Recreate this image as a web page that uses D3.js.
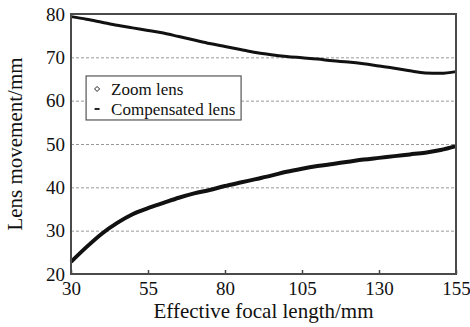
<!DOCTYPE html>
<html>
<head>
<meta charset="utf-8">
<script src="https://cdn.jsdelivr.net/npm/d3@7"></script>
<style>
  body { margin: 0; background: #fff; }
  svg { display: block; font-family: "Liberation Serif", "DejaVu Serif", serif; }
</style>
</head>
<body>
<div id="chart"></div>
<script>
// focal lengths (mm) at which the curves were read
const focal = [30, 35, 40, 45, 50, 55, 60, 65, 70, 75, 80, 85, 90, 95, 100,
  105, 110, 115, 120, 125, 130, 135, 140, 145, 150, 155];
const zoomLens = [22.8, 26.2, 29.3, 31.8, 33.8, 35.2, 36.4, 37.6, 38.6, 39.4, 40.3, 41.1, 41.9, 42.7, 43.6,
  44.3, 44.9, 45.4, 45.9, 46.4, 46.8, 47.2, 47.6, 48.0, 48.6, 49.5];
const compLens = [79.4, 78.8, 78.1, 77.4, 76.8, 76.2, 75.6, 74.8, 74.0, 73.2, 72.5, 71.8, 71.1, 70.6, 70.2,
  69.9, 69.6, 69.2, 68.9, 68.5, 68.0, 67.5, 66.9, 66.4, 66.3, 66.7];
const xTicks = [30, 55, 80, 105, 130, 155];
const yTicks = [20, 30, 40, 50, 60, 70, 80];
const gridValues = [30, 40, 50, 60, 70];
const seriesNames = ["Zoom lens", "Compensated lens"];

const W = 470, H = 327;
const margin = { top: 14, right: 14, bottom: 53, left: 71 };
const width = W - margin.left - margin.right;
const height = H - margin.top - margin.bottom;
const serif = "Liberation Serif, DejaVu Serif, serif";

const svg = d3.select("#chart").append("svg")
  .attr("width", W)
  .attr("height", H);

const g = svg.append("g")
  .attr("transform", `translate(${margin.left},${margin.top})`);

const x = d3.scaleLinear().domain([30, 155]).range([0, width]);
const y = d3.scaleLinear().domain([20, 80]).range([height, 0]);

// dotted grid, drawn as a y axis with full-width ticks
const grid = g.append("g")
  .call(d3.axisLeft(y).tickValues(gridValues).tickSize(-width).tickFormat(""));
grid.select(".domain").remove();
grid.selectAll(".tick line")
  .attr("stroke", "#999")
  .attr("stroke-width", 1)
  .attr("stroke-dasharray", "3,2");

// curves
const line = d3.line()
  .x((d, i) => x(focal[i]))
  .y(d => y(d))
  .curve(d3.curveMonotoneX);

g.append("path")
  .datum(compLens)
  .attr("fill", "none")
  .attr("stroke", "#111")
  .attr("stroke-width", 3)
  .attr("d", line);

g.append("path")
  .datum(zoomLens)
  .attr("fill", "none")
  .attr("stroke", "#111")
  .attr("stroke-width", 4)
  .attr("d", line);

// x axis, ticks pointing inward
const xAxis = g.append("g")
  .attr("transform", `translate(0,${height})`)
  .call(d3.axisBottom(x).tickValues(xTicks).tickSize(-4).tickPadding(8).tickFormat(d3.format("d")))
  .attr("font-family", serif)
  .attr("font-size", 19);
xAxis.select(".domain").remove();
xAxis.selectAll(".tick line").attr("stroke", "#444").attr("stroke-width", 1.5);
xAxis.selectAll(".tick text").attr("fill", "#111");

// y axis labels only
const yAxis = g.append("g")
  .call(d3.axisLeft(y).tickValues(yTicks).tickSize(0).tickPadding(6).tickFormat(d3.format("d")))
  .attr("font-family", serif)
  .attr("font-size", 19);
yAxis.select(".domain").remove();
yAxis.selectAll(".tick text").attr("fill", "#111");

// frame
g.append("rect")
  .attr("width", width)
  .attr("height", height)
  .attr("fill", "none")
  .attr("stroke", "#4a4a4a")
  .attr("stroke-width", 2);

// legend
const lg = g.append("g").attr("transform", `translate(${x(34.9)},${y(65.7)})`);
lg.append("rect")
  .attr("width", 155)
  .attr("height", 44)
  .attr("fill", "#fff")
  .attr("stroke", "#555")
  .attr("stroke-width", 1.2);
const items = lg.selectAll("g.item")
  .data(seriesNames)
  .join("g")
  .attr("class", "item")
  .attr("transform", (d, i) => `translate(0,${13 + i * 20})`);
items.append("path")
  .attr("transform", "translate(11,0)")
  .attr("d", (d, i) => i === 0 ? "M0,-2.5L2.5,0L0,2.5L-2.5,0Z" : "M-2.5,0H2.5")
  .attr("fill", (d, i) => i === 0 ? "#fff" : "none")
  .attr("stroke", "#222")
  .attr("stroke-width", (d, i) => i === 0 ? 1 : 2);
items.append("text")
  .attr("x", 25)
  .attr("dy", "0.35em")
  .attr("font-size", 17)
  .attr("fill", "#111")
  .text(d => d);

// axis titles
svg.append("text")
  .attr("x", margin.left + width / 2)
  .attr("y", 318)
  .attr("text-anchor", "middle")
  .attr("font-size", 21)
  .attr("fill", "#111")
  .text("Effective focal length/mm");

svg.append("text")
  .attr("transform", `translate(22,${margin.top + height / 2}) rotate(-90)`)
  .attr("text-anchor", "middle")
  .attr("font-size", 21)
  .attr("fill", "#111")
  .text("Lens movement/mm");
</script>
</body>
</html>
